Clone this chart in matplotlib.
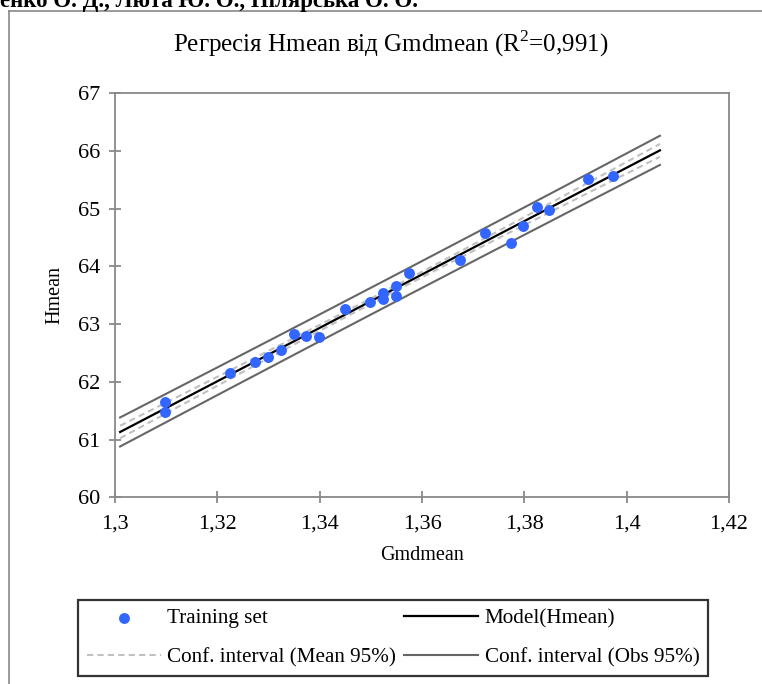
import numpy as np
import matplotlib
matplotlib.use('Agg')
import matplotlib.pyplot as plt
from matplotlib.lines import Line2D
from matplotlib.ticker import FuncFormatter, MultipleLocator

# training set
gmdmean = [1.3098, 1.3098, 1.3224, 1.3274, 1.3299, 1.3324, 1.3349, 1.3374,
           1.3399, 1.3449, 1.3499, 1.3524, 1.3524, 1.3549, 1.3549, 1.3574,
           1.3674, 1.3724, 1.3774, 1.3798, 1.3824, 1.3849, 1.3924, 1.3974]
hmean = [61.65, 61.47, 62.15, 62.35, 62.43, 62.55, 62.83, 62.79,
         62.78, 63.26, 63.38, 63.54, 63.43, 63.66, 63.48, 63.88,
         64.11, 64.58, 64.41, 64.70, 65.03, 64.98, 65.51, 65.56]
line_range = [1.301, 1.4065]
t_crit = 2.074  # t(0.975, df=22)

header = 'енко О. Д., Люта Ю. О., Пілярська О. О.'
title = 'Регресія Hmean від Gmdmean (R$^2$=0,991)'

plt.rcParams['font.family'] = ['Liberation Serif', 'DejaVu Serif']
plt.rcParams['mathtext.fontset'] = 'custom'
plt.rcParams['mathtext.rm'] = 'Liberation Serif'

x = np.array(gmdmean)
y = np.array(hmean)
n = len(x)
b, a = np.polyfit(x, y, 1)
resid = y - (a + b * x)
s = np.sqrt(np.sum(resid ** 2) / (n - 2))
xm = x.mean()
sxx = np.sum((x - xm) ** 2)

xx = np.linspace(line_range[0], line_range[1], 200)
yy = a + b * xx
h_mean = t_crit * s * np.sqrt(1 / n + (xx - xm) ** 2 / sxx)
h_obs = t_crit * s * np.sqrt(1 + 1 / n + (xx - xm) ** 2 / sxx)

W, H = 762, 684
fig = plt.figure(figsize=(W / 100, H / 100), dpi=100)
ax = fig.add_axes([115 / W, 1 - 497.4 / H, (729 - 115) / W, (497.4 - 93) / H])

gray = '#898989'
blue = '#3366ff'

ax.plot(xx, yy + h_obs, color='#666666', lw=1.5)
ax.plot(xx, yy - h_obs, color='#666666', lw=1.5, label='Conf. interval (Obs 95%)')
ax.plot(xx, yy + h_mean, color='#c0c0c0', lw=1.5, ls=(0, (3, 2)))
ax.plot(xx, yy - h_mean, color='#c0c0c0', lw=1.5, ls=(0, (3, 2)),
        label='Conf. interval (Mean 95%)')
ax.plot(xx, yy, color='black', lw=1.6, label='Model(Hmean)')
ax.scatter(x, y, s=62, color=blue, zorder=5, linewidths=0, label='Training set')

ax.set_xlim(1.3, 1.42)
ax.set_ylim(60, 67)
ax.xaxis.set_major_locator(MultipleLocator(0.02))
ax.yaxis.set_major_locator(MultipleLocator(1))
ax.xaxis.set_major_formatter(FuncFormatter(lambda v, p: ('%g' % round(v, 4)).replace('.', ',')))
ax.yaxis.set_major_formatter(FuncFormatter(lambda v, p: '%g' % v))

for sp in ax.spines.values():
    sp.set_color(gray)
    sp.set_linewidth(1.3)
ax.tick_params(direction='inout', length=9, width=1.3, color=gray,
               labelsize=16, pad=6)
ax.tick_params(axis='x', pad=8)

ax.set_xlabel('Gmdmean', fontsize=14.5, labelpad=9)
ax.set_ylabel('Hmean', fontsize=14.5, labelpad=10)

fig.text(391 / W, 1 - 44 / H, title, fontsize=18, ha='center', va='center')
fig.text(0.0, 1 - 7.5 / H, header, fontsize=16.5, fontweight='bold',
         ha='left', va='baseline')

# outer chart frame
fig.add_artist(Line2D([9 / W, 1], [1 - 11 / H, 1 - 11 / H], color=gray, lw=1.2,
                      transform=fig.transFigure))
fig.add_artist(Line2D([9 / W, 9 / W], [0, 1 - 11 / H], color=gray, lw=1.2,
                      transform=fig.transFigure))

handles, labels = ax.get_legend_handles_labels()
order = ['Training set', 'Conf. interval (Mean 95%)', 'Model(Hmean)',
         'Conf. interval (Obs 95%)']
hmap = dict(zip(labels, handles))
leg = fig.legend([hmap[k] for k in order], order, ncol=2, loc='center',
                 bbox_to_anchor=(393 / W, 1 - 638 / H), fontsize=15.2,
                 frameon=True, fancybox=False, edgecolor='black',
                 handlelength=3.5, handletextpad=0.3, columnspacing=0.4,
                 labelspacing=0.9, borderpad=0.4, scatterpoints=1)
leg.get_frame().set_linewidth(1.6)

fig.savefig('out.png', dpi=100)
